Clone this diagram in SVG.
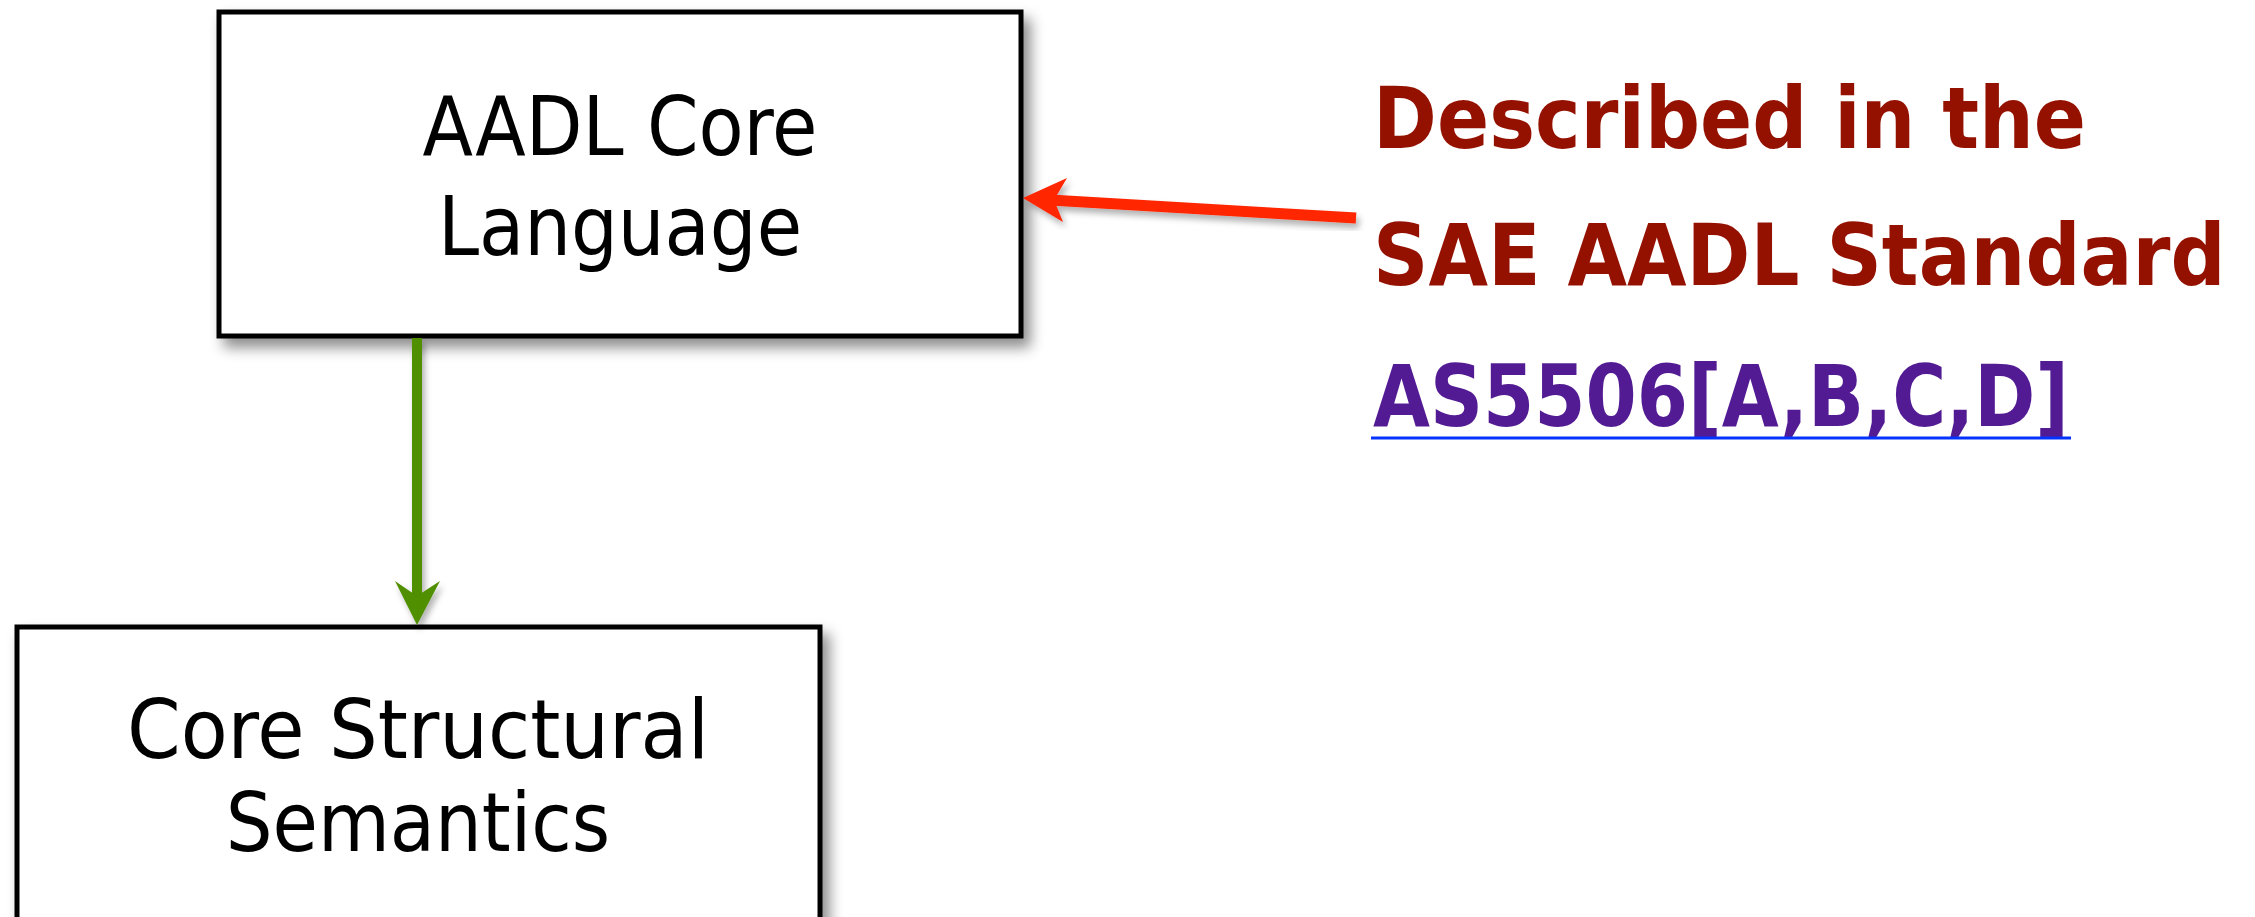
<svg xmlns="http://www.w3.org/2000/svg" width="2255" height="917" viewBox="0 0 2255 917">
<style>
.box{fill:#ffffff;stroke:#000000;stroke-width:5}
.lbl{font-family:"DejaVu Sans Condensed","DejaVu Sans",sans-serif;font-stretch:condensed;font-size:82px;fill:#000000;text-anchor:middle}
.note{font-family:"Comic Sans MS","DejaVu Sans",sans-serif;font-weight:bold;font-size:77px}
</style>
<defs>
<filter id="sh" x="-10%" y="-10%" width="130%" height="130%">
<feDropShadow dx="7" dy="9" stdDeviation="7" flood-color="#000" flood-opacity="0.45"/>
</filter>
<filter id="ash" x="-20%" y="-20%" width="140%" height="140%">
<feDropShadow dx="3" dy="5" stdDeviation="3" flood-color="#000" flood-opacity="0.3"/>
</filter>
</defs>
<rect width="2255" height="917" fill="#ffffff"/>
<g id="node-core-language">
<rect class="box" x="219" y="12" width="802" height="324" filter="url(#sh)"/>
<text class="lbl" x="620" y="155">AADL Core</text>
<text class="lbl" x="620" y="255">Language</text>
</g>
<g id="node-structural-semantics">
<rect class="box" x="17" y="627" width="803" height="330" filter="url(#sh)"/>
<text class="lbl" x="418" y="758" textLength="582" lengthAdjust="spacingAndGlyphs">Core Structural</text>
<text class="lbl" x="418" y="851">Semantics</text>
</g>
<g id="connectors">
<g filter="url(#ash)">
<line x1="417" y1="338" x2="417" y2="596" stroke="#4f8f00" stroke-width="10"/>
<path d="M417,625 L395,581 Q408,590 417,596 Q426,590 440,581 Z" fill="#4f8f00"/>
</g>
<g filter="url(#ash)">
<line x1="1356" y1="218" x2="1050" y2="200" stroke="#ff2600" stroke-width="11"/>
<path d="M1023,198 L1067,178 L1054,200 L1063,222 Z" fill="#ff2600"/>
</g>
</g>
<g id="note">
<text class="note" x="1373" y="148" fill="#941100" transform="translate(0,148) scale(1,1.1) translate(0,-148)">Described in the</text>
<text class="note" x="1373" y="285" fill="#941100" transform="translate(0,285) scale(1,1.1) translate(0,-285)">SAE AADL Standard</text>
<text class="note" x="1373" y="426" fill="#531b93" textLength="696" lengthAdjust="spacingAndGlyphs" transform="translate(0,426) scale(1,1.1) translate(0,-426)">AS5506[A,B,C,D]</text>
<line x1="1371" y1="438" x2="2071" y2="438" stroke="#0433ff" stroke-width="3"/>
</g>
</svg>
